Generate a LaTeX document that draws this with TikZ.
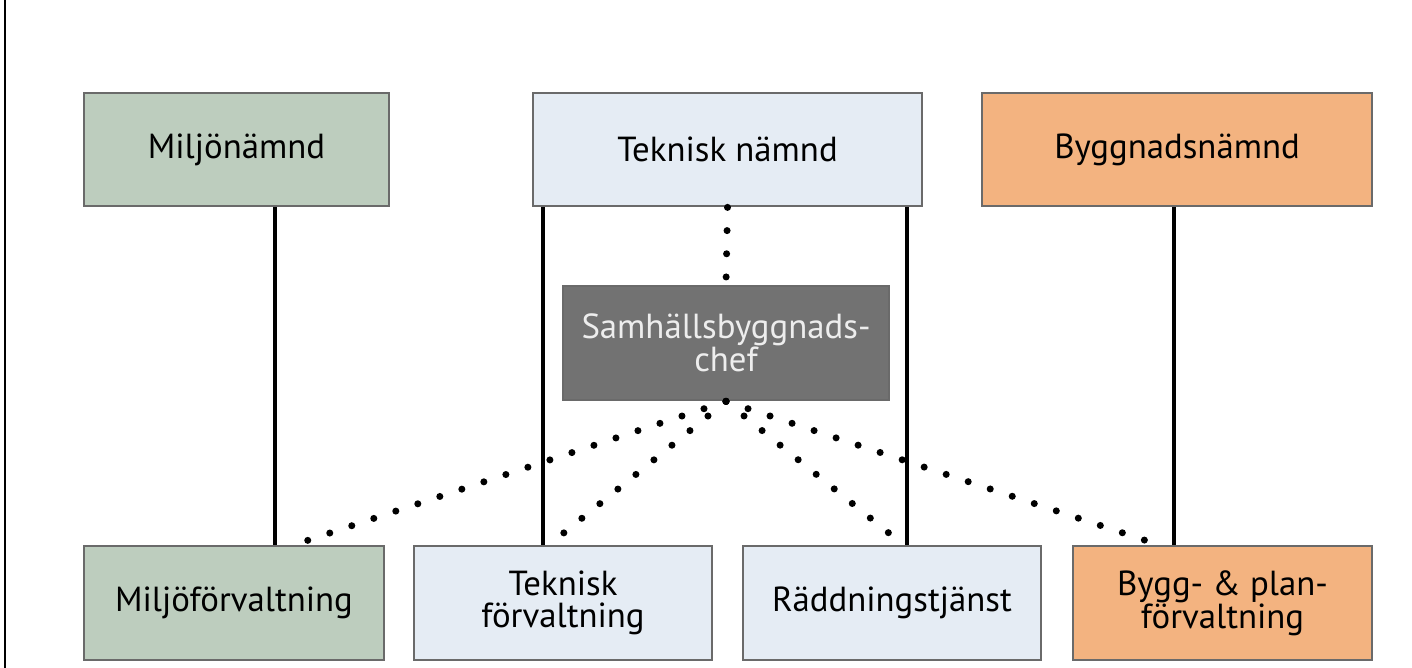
\documentclass[tikz,border=0pt]{standalone}
\usepackage{fontspec}
\setmainfont{PT Sans}
\definecolor{groen}{HTML}{BDCDBE}
\definecolor{ljusbla}{HTML}{E5ECF4}
\definecolor{orange}{HTML}{F3B380}
\definecolor{morkgra}{HTML}{727272}
\definecolor{kant}{HTML}{6A6A6A}
\tikzset{
  orgbox/.style={draw=kant, line width=0.8pt, minimum height=1.13cm, inner sep=2pt,
    align=center, font=\fontsize{9.9}{9.3}\selectfont},
  linje/.style={line width=1.3pt},
  prickar/.style={line width=2pt, line cap=round, dash pattern=on 0pt off 6.6pt}
}
\begin{document}
\begin{tikzpicture}
    \useasboundingbox (0,0) rectangle (14.12,-6.68);
    \draw[line width=0.8pt] (0.05,0) -- (0.05,-6.68);

    \node[orgbox, fill=groen, minimum width=3.05cm] (mn) at (2.365,-1.495) {Miljönämnd};
    \node[orgbox, fill=ljusbla, minimum width=3.89cm] (tn) at (7.275,-1.495) {Teknisk nämnd};
    \node[orgbox, fill=orange, minimum width=3.90cm] (bn) at (11.77,-1.495) {Byggnadsnämnd};

    \node[orgbox, fill=morkgra, text=white!93!black, minimum width=3.26cm, minimum height=1.14cm] (sc) at (7.26,-3.43) {Samhällsbyggnads-\\chef};

    \node[orgbox, fill=groen, minimum width=3.00cm, minimum height=1.14cm] (mf) at (2.34,-6.03) {Miljöförvaltning};
    \node[orgbox, fill=ljusbla, minimum width=2.98cm, minimum height=1.14cm] (tf) at (5.63,-6.03) {Teknisk\\förvaltning};
    \node[orgbox, fill=ljusbla, minimum width=2.98cm, minimum height=1.14cm] (rt) at (8.92,-6.03) {Räddningstjänst};
    \node[orgbox, fill=orange, minimum width=2.99cm, minimum height=1.14cm] (bf) at (12.225,-6.03) {Bygg- \& plan-\\förvaltning};

    % raka linjer
    \draw[linje] (mn.south -| 2.75,0) -- (mf.north -| 2.75,0);
    \draw[linje] (tn.south -| 5.43,0) -- (tf.north -| 5.43,0);
    \draw[linje] (tn.south -| 9.07,0) -- (rt.north -| 9.07,0);
    \draw[linje] (bn.south -| 11.74,0) -- (bf.north -| 11.74,0);

    % prickade linjer
    \draw[prickar] (tn.south) -- (sc.north);
    \draw[prickar] (sc.south) -- (mf.north -| 2.95,0);
    \draw[prickar] (sc.south) -- (5.60,-5.36);
    \draw[prickar] (sc.south) -- (8.90,-5.34);
    \draw[prickar] (sc.south) -- (bf.north -| 11.58,0);
\end{tikzpicture}
\end{document}
